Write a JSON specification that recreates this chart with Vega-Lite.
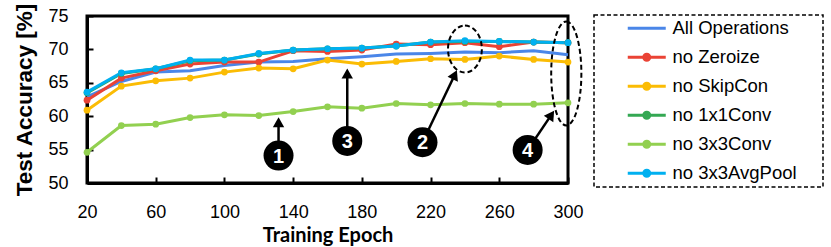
{
  "$schema": "https://vega.github.io/schema/vega-lite/v6.json",
  "width": 481,
  "height": 167,
  "autosize": {"type": "none"},
  "padding": {"left": 87, "top": 16, "right": 263, "bottom": 64},
  "background": "white",
  "config": {
    "view": {"stroke": "black", "strokeWidth": 3},
    "font": "Liberation Sans",
    "axis": {"labelOverlap": false}
  },
  "datasets": {
    "acc": [
      {"epoch": 20, "series": "All Operations", "value": 62.9},
      {"epoch": 40, "series": "All Operations", "value": 65.2},
      {"epoch": 60, "series": "All Operations", "value": 66.6},
      {"epoch": 80, "series": "All Operations", "value": 66.8},
      {"epoch": 100, "series": "All Operations", "value": 67.6},
      {"epoch": 120, "series": "All Operations", "value": 68.1},
      {"epoch": 140, "series": "All Operations", "value": 68.2},
      {"epoch": 160, "series": "All Operations", "value": 68.6},
      {"epoch": 180, "series": "All Operations", "value": 68.9},
      {"epoch": 200, "series": "All Operations", "value": 69.3},
      {"epoch": 220, "series": "All Operations", "value": 69.4},
      {"epoch": 240, "series": "All Operations", "value": 69.6},
      {"epoch": 260, "series": "All Operations", "value": 69.5},
      {"epoch": 280, "series": "All Operations", "value": 69.8},
      {"epoch": 300, "series": "All Operations", "value": 69.2},
      {"epoch": 20, "series": "no Zeroize", "value": 62.4},
      {"epoch": 40, "series": "no Zeroize", "value": 65.7},
      {"epoch": 60, "series": "no Zeroize", "value": 66.8},
      {"epoch": 80, "series": "no Zeroize", "value": 67.8},
      {"epoch": 100, "series": "no Zeroize", "value": 68.1},
      {"epoch": 120, "series": "no Zeroize", "value": 68.1},
      {"epoch": 140, "series": "no Zeroize", "value": 69.8},
      {"epoch": 160, "series": "no Zeroize", "value": 69.7},
      {"epoch": 180, "series": "no Zeroize", "value": 69.9},
      {"epoch": 200, "series": "no Zeroize", "value": 70.8},
      {"epoch": 220, "series": "no Zeroize", "value": 70.7},
      {"epoch": 240, "series": "no Zeroize", "value": 71.0},
      {"epoch": 260, "series": "no Zeroize", "value": 70.4},
      {"epoch": 280, "series": "no Zeroize", "value": 71.1},
      {"epoch": 300, "series": "no Zeroize", "value": 71.0},
      {"epoch": 20, "series": "no SkipCon", "value": 60.9},
      {"epoch": 40, "series": "no SkipCon", "value": 64.5},
      {"epoch": 60, "series": "no SkipCon", "value": 65.3},
      {"epoch": 80, "series": "no SkipCon", "value": 65.7},
      {"epoch": 100, "series": "no SkipCon", "value": 66.6},
      {"epoch": 120, "series": "no SkipCon", "value": 67.2},
      {"epoch": 140, "series": "no SkipCon", "value": 67.1},
      {"epoch": 160, "series": "no SkipCon", "value": 68.4},
      {"epoch": 180, "series": "no SkipCon", "value": 67.8},
      {"epoch": 200, "series": "no SkipCon", "value": 68.2},
      {"epoch": 220, "series": "no SkipCon", "value": 68.6},
      {"epoch": 240, "series": "no SkipCon", "value": 68.5},
      {"epoch": 260, "series": "no SkipCon", "value": 69.0},
      {"epoch": 280, "series": "no SkipCon", "value": 68.5},
      {"epoch": 300, "series": "no SkipCon", "value": 68.1},
      {"epoch": 20, "series": "no 1x1Conv", "value": 63.5},
      {"epoch": 40, "series": "no 1x1Conv", "value": 66.4},
      {"epoch": 60, "series": "no 1x1Conv", "value": 67.1},
      {"epoch": 80, "series": "no 1x1Conv", "value": 68.3},
      {"epoch": 100, "series": "no 1x1Conv", "value": 68.4},
      {"epoch": 120, "series": "no 1x1Conv", "value": 69.3},
      {"epoch": 140, "series": "no 1x1Conv", "value": 69.9},
      {"epoch": 160, "series": "no 1x1Conv", "value": 70.1},
      {"epoch": 180, "series": "no 1x1Conv", "value": 70.2},
      {"epoch": 200, "series": "no 1x1Conv", "value": 70.5},
      {"epoch": 220, "series": "no 1x1Conv", "value": 71.1},
      {"epoch": 240, "series": "no 1x1Conv", "value": 71.2},
      {"epoch": 260, "series": "no 1x1Conv", "value": 71.2},
      {"epoch": 280, "series": "no 1x1Conv", "value": 71.1},
      {"epoch": 300, "series": "no 1x1Conv", "value": 71.0},
      {"epoch": 20, "series": "no 3x3Conv", "value": 54.6},
      {"epoch": 40, "series": "no 3x3Conv", "value": 58.6},
      {"epoch": 60, "series": "no 3x3Conv", "value": 58.8},
      {"epoch": 80, "series": "no 3x3Conv", "value": 59.8},
      {"epoch": 100, "series": "no 3x3Conv", "value": 60.2},
      {"epoch": 120, "series": "no 3x3Conv", "value": 60.1},
      {"epoch": 140, "series": "no 3x3Conv", "value": 60.7},
      {"epoch": 160, "series": "no 3x3Conv", "value": 61.4},
      {"epoch": 180, "series": "no 3x3Conv", "value": 61.2},
      {"epoch": 200, "series": "no 3x3Conv", "value": 61.9},
      {"epoch": 220, "series": "no 3x3Conv", "value": 61.7},
      {"epoch": 240, "series": "no 3x3Conv", "value": 61.9},
      {"epoch": 260, "series": "no 3x3Conv", "value": 61.8},
      {"epoch": 280, "series": "no 3x3Conv", "value": 61.8},
      {"epoch": 300, "series": "no 3x3Conv", "value": 62.0},
      {"epoch": 20, "series": "no 3x3AvgPool", "value": 63.6},
      {"epoch": 40, "series": "no 3x3AvgPool", "value": 66.5},
      {"epoch": 60, "series": "no 3x3AvgPool", "value": 67.1},
      {"epoch": 80, "series": "no 3x3AvgPool", "value": 68.4},
      {"epoch": 100, "series": "no 3x3AvgPool", "value": 68.4},
      {"epoch": 120, "series": "no 3x3AvgPool", "value": 69.4},
      {"epoch": 140, "series": "no 3x3AvgPool", "value": 69.9},
      {"epoch": 160, "series": "no 3x3AvgPool", "value": 70.1},
      {"epoch": 180, "series": "no 3x3AvgPool", "value": 70.2},
      {"epoch": 200, "series": "no 3x3AvgPool", "value": 70.5},
      {"epoch": 220, "series": "no 3x3AvgPool", "value": 71.1},
      {"epoch": 240, "series": "no 3x3AvgPool", "value": 71.3},
      {"epoch": 260, "series": "no 3x3AvgPool", "value": 71.2},
      {"epoch": 280, "series": "no 3x3AvgPool", "value": 71.1},
      {"epoch": 300, "series": "no 3x3AvgPool", "value": 71.0}
    ],
    "ann": [
      {"label": "1", "epoch": 131.5, "value": 54.1, "tipEpoch": 131.5, "tipValue": 59.1},
      {"label": "2", "epoch": 215.3, "value": 56.1, "tipEpoch": 234.1, "tipValue": 66.2},
      {"label": "3", "epoch": 171.5, "value": 56.3, "tipEpoch": 171.5, "tipValue": 66.4},
      {"label": "4", "epoch": 276.5, "value": 54.95, "tipEpoch": 290.3, "tipValue": 60.2}
    ],
    "ell": [
      {"name": "e2", "epoch": 240, "value": 70.05},
      {"name": "e4", "epoch": 299, "value": 66.4}
    ]
  },
  "encoding": {
    "x": {
      "field": "epoch", "type": "quantitative",
      "scale": {"domain": [20, 300], "nice": false, "zero": false},
      "axis": {
        "title": "Training Epoch", "values": [20, 60, 100, 140, 180, 220, 260, 300],
        "grid": false, "domainColor": "black", "domainWidth": 3,
        "tickColor": "black", "tickWidth": 2, "tickSize": -6,
        "labelFont": "Liberation Sans", "labelFontSize": 18, "labelColor": "black",
        "labelPadding": 26, "labelFlush": false, "labelOverlap": false,
        "titleFont": "Lato", "titleFontWeight": "bold", "titleFontSize": 20,
        "titleColor": "black", "titlePadding": 4
      }
    },
    "y": {
      "field": "value", "type": "quantitative",
      "scale": {"domain": [50, 75], "nice": false, "zero": false},
      "axis": {
        "title": "Test Accuracy [%]", "values": [50, 55, 60, 65, 70, 75], "tickCount": 6,
        "grid": false, "domainColor": "black", "domainWidth": 3,
        "tickColor": "black", "tickWidth": 2, "tickSize": -6,
        "labelFont": "Liberation Sans", "labelFontSize": 18, "labelColor": "black",
        "labelPadding": 25, "labelOverlap": false, "labelFlush": false,
        "titleFont": "Liberation Sans", "titleFontWeight": "bold", "titleFontSize": 22.5,
        "titleColor": "black", "titlePadding": 11
      }
    }
  },
  "layer": [
    {
      "data": {"name": "acc"},
      "mark": {"type": "line", "strokeWidth": 3},
      "encoding": {
        "color": {
          "field": "series", "type": "nominal",
          "scale": {
            "domain": ["All Operations", "no Zeroize", "no SkipCon", "no 1x1Conv", "no 3x3Conv", "no 3x3AvgPool"],
            "range": ["#4A86E8", "#EA4335", "#FBBC04", "#34A853", "#92D050", "#00B0F0"]
          },
          "legend": {
            "title": "\u00a0", "titleOrient": "right", "titlePadding": 22, "titleFontSize": 10,
            "orient": "none", "legendX": 507, "legendY": -1,
            "padding": 4, "rowPadding": 10,
            "symbolType": "M-3.8,0H3.8M0.6,0A0.6,0.6,0,1,1,-0.6,0A0.6,0.6,0,1,1,0.6,0Z",
            "symbolSize": 100, "symbolStrokeWidth": 3, "symbolOffset": 39.5,
            "labelOffset": 16.5, "labelFont": "Liberation Sans", "labelFontSize": 18.5,
            "labelColor": "black", "labelLimit": 300,
            "encode": {
              "legend": {"update": {"stroke": {"value": "black"}, "strokeWidth": {"value": 1.5}, "strokeDash": {"value": [4, 2.5]}}},
              "symbols": {"update": {
                "fill": {"scale": "color", "field": "value"},
                "shape": [
                  {"test": "datum.value === 'All Operations'", "value": "M-3.8,0H3.8"},
                  {"value": "M-3.8,0H3.8M0.6,0A0.6,0.6,0,1,1,-0.6,0A0.6,0.6,0,1,1,0.6,0Z"}
                ]
              }}
            }
          }
        }
      }
    },
    {
      "data": {"name": "acc"},
      "transform": [{"filter": "datum.series !== 'All Operations'"}],
      "mark": {"type": "circle", "size": 45, "opacity": 1},
      "encoding": {
        "color": {"field": "series", "type": "nominal", "legend": null}
      }
    },
    {
      "data": {"name": "ann"},
      "mark": {"type": "rule", "color": "black", "strokeWidth": 2.5},
      "encoding": {
        "x2": {"field": "tipEpoch"},
        "y2": {"field": "tipValue"}
      }
    },
    {
      "data": {"name": "ann"},
      "transform": [{"filter": "datum.label === '1' || datum.label === '3'"}],
      "mark": {"type": "point", "shape": "triangle-up", "filled": true, "color": "black", "opacity": 1, "size": 130},
      "encoding": {
        "x": {"field": "tipEpoch", "type": "quantitative"},
        "y": {"field": "tipValue", "type": "quantitative"}
      }
    },
    {
      "data": {"name": "ann"},
      "transform": [{"filter": "datum.label === '2'"}],
      "mark": {"type": "point", "shape": "triangle-up", "filled": true, "color": "black", "opacity": 1, "size": 130, "angle": 25},
      "encoding": {
        "x": {"field": "tipEpoch", "type": "quantitative"},
        "y": {"field": "tipValue", "type": "quantitative"}
      }
    },
    {
      "data": {"name": "ann"},
      "transform": [{"filter": "datum.label === '4'"}],
      "mark": {"type": "point", "shape": "triangle-up", "filled": true, "color": "black", "opacity": 1, "size": 130, "angle": 34},
      "encoding": {
        "x": {"field": "tipEpoch", "type": "quantitative"},
        "y": {"field": "tipValue", "type": "quantitative"}
      }
    },
    {
      "data": {"name": "ann"},
      "mark": {"type": "point", "shape": "circle", "filled": true, "color": "black", "opacity": 1, "size": 900}
    },
    {
      "data": {"name": "ann"},
      "mark": {"type": "text", "color": "white", "font": "Liberation Sans", "fontWeight": "bold", "fontSize": 20, "baseline": "middle", "align": "center", "dy": 1},
      "encoding": {
        "text": {"field": "label"}
      }
    },
    {
      "data": {"name": "ell"},
      "transform": [{"filter": "datum.name === 'e2'"}],
      "mark": {"type": "point", "shape": "M0,-1A0.72,1,0,1,1,0,1A0.72,1,0,1,1,0,-1Z", "filled": false, "stroke": "black", "strokeWidth": 2, "strokeDash": [5, 3], "opacity": 1, "size": 2209}
    },
    {
      "data": {"name": "ell"},
      "transform": [{"filter": "datum.name === 'e4'"}],
      "mark": {"type": "point", "shape": "M0,-1A0.29,1,0,1,1,0,1A0.29,1,0,1,1,0,-1Z", "filled": false, "stroke": "black", "strokeWidth": 2, "strokeDash": [5, 3], "opacity": 1, "size": 10816}
    }
  ]
}
